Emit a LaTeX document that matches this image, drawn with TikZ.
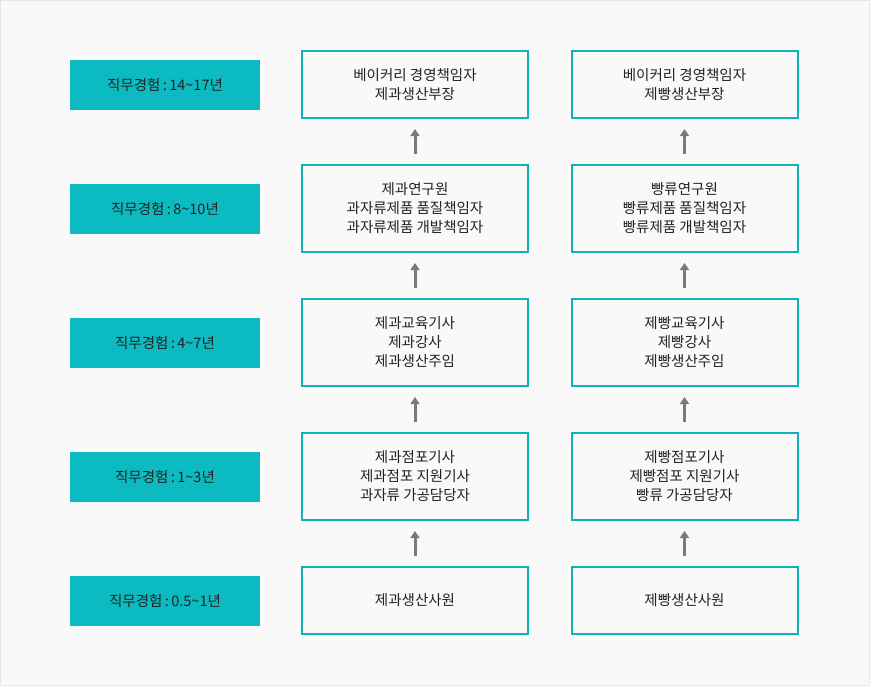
\documentclass[tikz,border=0pt]{standalone}
\usepackage{fontspec}
\setmainfont{Noto Sans CJK KR}
\usetikzlibrary{arrows.meta}
\definecolor{teal}{HTML}{0BBBC1}
\definecolor{tealline}{HTML}{10B2B8}
\definecolor{bgcol}{HTML}{F9F9F9}
\definecolor{bordercol}{HTML}{E6E6E6}
\definecolor{arrowcol}{HTML}{7A7A7A}
\definecolor{txt}{HTML}{222222}
\tikzset{
  yearbox/.style={fill=teal, minimum width=190pt, minimum height=50pt,
    inner sep=0pt, text=txt, font=\fontsize{14.5}{19}\selectfont},
  jobbox/.style={draw=tealline, line width=2pt, fill=bgcol, minimum width=226pt,
    inner sep=0pt, align=center, text=txt, font=\fontsize{14.5}{19}\selectfont},
  upline/.style={-{Triangle[width=9pt,length=7pt]}, draw=arrowcol, line width=3pt,
    shorten <=10pt, shorten >=10pt}
}
\begin{document}
\begin{tikzpicture}[x=1pt,y=-1pt]
  % background
  \fill[bgcol] (0,0) rectangle (870,686);
  \draw[bordercol] (0.5,0.5) rectangle (869.5,685.5);
  \useasboundingbox (0,0) rectangle (870,686);
  % years
  \node[yearbox] (y1) at (165,85) {직무경험\,:\,14\textasciitilde17년};
  \node[yearbox] (y2) at (165,209) {직무경험\,:\,8\textasciitilde10년};
  \node[yearbox] (y3) at (165,343) {직무경험\,:\,4\textasciitilde7년};
  \node[yearbox] (y4) at (165,477) {직무경험\,:\,1\textasciitilde3년};
  \node[yearbox] (y5) at (165,601) {직무경험\,:\,0.5\textasciitilde1년};
  % confectionery
  \node[jobbox, minimum height=67pt] (a1) at (415,84.5) {베이커리 경영책임자\\제과생산부장};
  \node[jobbox, minimum height=87pt] (a2) at (415,208.5) {제과연구원\\과자류제품 품질책임자\\과자류제품 개발책임자};
  \node[jobbox, minimum height=87pt] (a3) at (415,342.5) {제과교육기사\\제과강사\\제과생산주임};
  \node[jobbox, minimum height=87pt] (a4) at (415,476.5) {제과점포기사\\제과점포 지원기사\\과자류 가공담당자};
  \node[jobbox, minimum height=67pt] (a5) at (415,600.5) {제과생산사원};
  % bread
  \node[jobbox, minimum height=67pt] (b1) at (684.5,84.5) {베이커리 경영책임자\\제빵생산부장};
  \node[jobbox, minimum height=87pt] (b2) at (684.5,208.5) {빵류연구원\\빵류제품 품질책임자\\빵류제품 개발책임자};
  \node[jobbox, minimum height=87pt] (b3) at (684.5,342.5) {제빵교육기사\\제빵강사\\제빵생산주임};
  \node[jobbox, minimum height=87pt] (b4) at (684.5,476.5) {제빵점포기사\\제빵점포 지원기사\\빵류 가공담당자};
  \node[jobbox, minimum height=67pt] (b5) at (684.5,600.5) {제빵생산사원};
  % arrows
  \foreach \i/\j in {2/1,3/2,4/3,5/4}{
    \draw[upline] (a\i.north) -- (a\j.south);
    \draw[upline] (b\i.north) -- (b\j.south);
  }
\end{tikzpicture}
\end{document}
